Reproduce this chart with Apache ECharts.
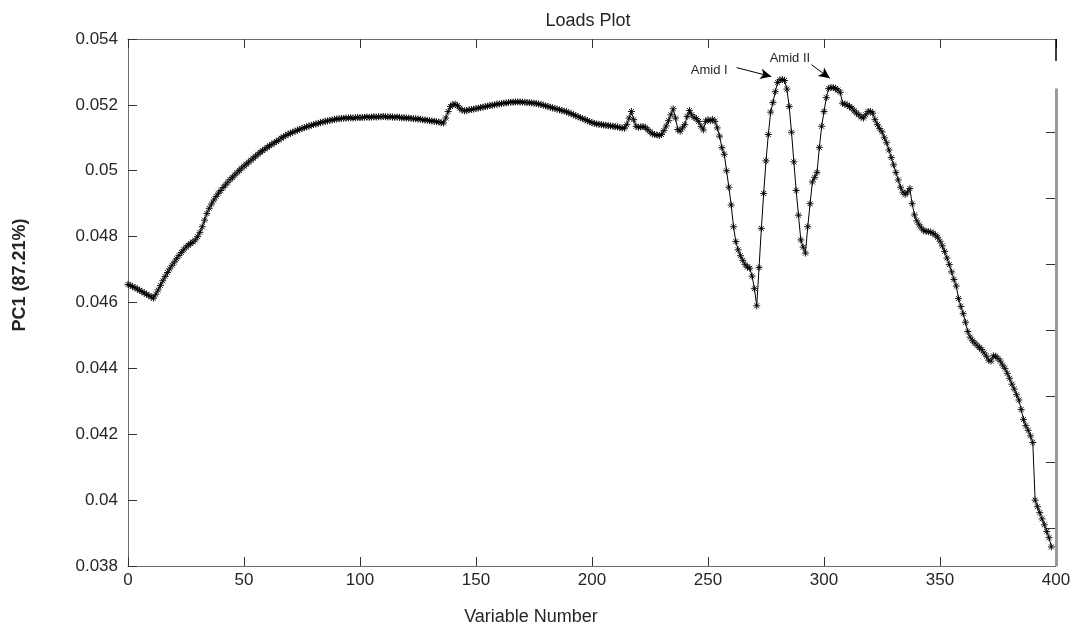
<!DOCTYPE html>
<html>
<head>
<meta charset="utf-8">
<script src="https://cdn.jsdelivr.net/npm/echarts@6/dist/echarts.min.js"></script>
<style>
html,body{margin:0;padding:0;background:#fff;}
#chart{width:1075px;height:626px;}
</style>
</head>
<body>
<div id="chart"></div>
<script>
// ---- data ----
const titleText = "Loads Plot";
const xAxisName = "Variable Number";
const yAxisName = "PC1 (87.21%)";
const xTicks = [0, 50, 100, 150, 200, 250, 300, 350, 400];
const yTicks = [0.038, 0.04, 0.042, 0.044, 0.046, 0.048, 0.05, 0.052, 0.054];
const firstVariable = 0;
// PC1 loading per variable
const loadings = [
0.04655,0.04652,0.04648,0.04645,0.04641,0.04637,0.04633,0.04629,0.04625,0.04621,
0.04617,0.04613,0.04625,0.04638,0.04652,0.04666,0.04679,0.04691,0.04702,0.04713,
0.04723,0.04733,0.04743,0.04752,0.04760,0.04768,0.04774,0.04779,0.04784,0.04790,
0.04800,0.04813,0.04830,0.04850,0.04870,0.04886,0.04899,0.04911,0.04922,0.04932,
0.04940,0.04949,0.04957,0.04965,0.04973,0.04980,0.04987,0.04994,0.05001,0.05008,
0.05014,0.05020,0.05026,0.05032,0.05038,0.05044,0.05050,0.05056,0.05061,0.05066,
0.05071,0.05076,0.05080,0.05085,0.05089,0.05093,0.05099,0.05103,0.05107,0.05111,
0.05114,0.05117,0.05120,0.05123,0.05126,0.05128,0.05131,0.05133,0.05136,0.05138,
0.05140,0.05142,0.05144,0.05146,0.05148,0.05150,0.05151,0.05153,0.05154,0.05156,
0.05157,0.05158,0.05159,0.05159,0.05160,0.05160,0.05161,0.05160,0.05161,0.05162,
0.05161,0.05162,0.05162,0.05163,0.05162,0.05163,0.05164,0.05163,0.05164,0.05164,
0.05165,0.05164,0.05163,0.05164,0.05163,0.05162,0.05163,0.05162,0.05161,0.05161,
0.05160,0.05160,0.05159,0.05158,0.05158,0.05157,0.05156,0.05155,0.05154,0.05153,
0.05152,0.05151,0.05150,0.05149,0.05148,0.05146,0.05145,0.05160,0.05180,0.05195,
0.05201,0.05202,0.05198,0.05190,0.05184,0.05182,0.05183,0.05185,0.05186,0.05187,
0.05189,0.05190,0.05192,0.05193,0.05195,0.05196,0.05198,0.05199,0.05200,0.05202,
0.05203,0.05204,0.05205,0.05206,0.05207,0.05208,0.05208,0.05209,0.05209,0.05209,
0.05208,0.05208,0.05207,0.05207,0.05206,0.05205,0.05204,0.05203,0.05201,0.05199,
0.05197,0.05195,0.05193,0.05191,0.05189,0.05187,0.05185,0.05183,0.05181,0.05179,
0.05176,0.05173,0.05170,0.05167,0.05164,0.05161,0.05158,0.05155,0.05152,0.05149,
0.05146,0.05144,0.05142,0.05141,0.05140,0.05139,0.05138,0.05137,0.05136,0.05135,
0.05134,0.05133,0.05131,0.05130,0.05129,0.05140,0.05160,0.05180,0.05155,0.05135,
0.05132,0.05133,0.05134,0.05132,0.05125,0.05118,0.05112,0.05110,0.05109,0.05107,
0.05110,0.05122,0.05136,0.05152,0.05170,0.05188,0.05160,0.05125,0.05120,0.05130,
0.05140,0.05165,0.05183,0.05170,0.05162,0.05158,0.05150,0.05135,0.05124,0.05150,
0.05155,0.05152,0.05156,0.05150,0.05130,0.05105,0.05070,0.05050,0.05000,0.04950,
0.04896,0.04830,0.04785,0.04760,0.04742,0.04728,0.04715,0.04708,0.04704,0.04680,
0.04642,0.04590,0.04706,0.04825,0.04931,0.05030,0.05110,0.05178,0.05207,0.05240,
0.05268,0.05276,0.05277,0.05274,0.05248,0.05195,0.05117,0.05027,0.04940,0.04865,
0.04790,0.04768,0.04750,0.04830,0.04900,0.04966,0.04980,0.04995,0.05071,0.05135,
0.05180,0.05222,0.05250,0.05253,0.05252,0.05250,0.05245,0.05238,0.05205,0.05202,
0.05200,0.05195,0.05190,0.05182,0.05175,0.05170,0.05163,0.05160,0.05170,0.05180,
0.05180,0.05175,0.05155,0.05140,0.05128,0.05118,0.05100,0.05085,0.05063,0.05040,
0.05018,0.04995,0.04972,0.04950,0.04935,0.04928,0.04935,0.04946,0.04900,0.04866,
0.04848,0.04836,0.04826,0.04818,0.04816,0.04815,0.04814,0.04810,0.04805,0.04798,
0.04786,0.04772,0.04755,0.04735,0.04715,0.04693,0.04670,0.04650,0.04612,0.04588,
0.04566,0.04540,0.04512,0.04495,0.04484,0.04477,0.04470,0.04463,0.04457,0.04447,
0.04437,0.04425,0.04422,0.04438,0.04437,0.04430,0.04422,0.04410,0.04400,0.04385,
0.04370,0.04352,0.04337,0.04320,0.04304,0.04275,0.04245,0.04226,0.04212,0.04195,
0.04175,0.04000,0.03980,0.03962,0.03943,0.03925,0.03905,0.03886,0.03858
];
// annotations: text labels and arrows in data coordinates
const annotationLabels = [
  {name: "Amid I", x: 250.5, y: 0.05304},
  {name: "Amid II", x: 285.3, y: 0.05342}
];
const annotationArrows = [
  {from: [262.4, 0.05313], to: [277.3, 0.05286]},
  {from: [294.6, 0.05322], to: [302.5, 0.05281]}
];
// right-hand overlay axis ticks (artifact of the original figure)
const rightTicks = [0.051157, 0.049157, 0.047157, 0.045157, 0.043157, 0.041157, 0.039157];

// ---- chart ----
const FONT = "Liberation Sans, Arial, Helvetica, sans-serif";
const seriesData = loadings.map((v, i) => [firstVariable + i, v]);
const xMin = xTicks[0], xMax = xTicks[xTicks.length - 1];
const yMin = yTicks[0], yMax = yTicks[yTicks.length - 1];
const asterisk = 'path://M5,0 L5,10 M0,5 L10,5 M1.5,1.5 L8.5,8.5 M8.5,1.5 L1.5,8.5';
const fmtY = v => String(parseFloat(v.toFixed(3)));

const chart = echarts.init(document.getElementById('chart'), null, {renderer: 'canvas'});

const baseX = {
  type: 'value', min: xMin, max: xMax, interval: 50,
  axisLine: {show: true, onZero: false, lineStyle: {color: '#6e6e6e', width: 1}},
  axisTick: {show: true, inside: true, length: 9, lineStyle: {color: '#333'}},
  splitLine: {show: false}
};

chart.setOption({
  animation: false,
  backgroundColor: '#ffffff',
  grid: {left: 128, right: 19, top: 39, bottom: 60, containLabel: false},
  xAxis: [
    Object.assign({}, baseX, {
      position: 'bottom',
      axisLabel: {show: true, margin: 6, color: '#262626', fontSize: 17, fontFamily: FONT,
        formatter: v => String(v)}
    }),
    Object.assign({}, baseX, {position: 'top', axisLabel: {show: false}})
  ],
  yAxis: [
    {
      type: 'value', min: yMin, max: yMax, interval: 0.002, position: 'left',
      axisLine: {show: true, onZero: false, lineStyle: {color: '#6e6e6e', width: 1}},
      axisTick: {show: true, inside: true, length: 9, lineStyle: {color: '#333'}},
      axisLabel: {show: true, margin: 10, color: '#262626', fontSize: 17, fontFamily: FONT, formatter: fmtY},
      splitLine: {show: false}
    },
    {
      type: 'value', min: yMin, max: yMax, position: 'right',
      axisLine: {show: false, onZero: false},
      axisTick: {show: true, inside: true, length: 10, customValues: rightTicks, lineStyle: {color: '#333'}},
      axisLabel: {show: false},
      splitLine: {show: false}
    }
  ],
  series: [{
    type: 'line',
    xAxisIndex: 0, yAxisIndex: 0,
    data: seriesData,
    clip: false,
    showSymbol: true,
    showAllSymbol: true,
    symbol: asterisk,
    symbolSize: 7,
    itemStyle: {color: '#000', borderColor: '#000', borderWidth: 0.9},
    lineStyle: {color: '#000', width: 1},
    emphasis: {disabled: true},
    markLine: {
      silent: true,
      animation: false,
      symbol: ['none', 'arrow'],
      symbolSize: [8, 11],
      label: {show: false},
      lineStyle: {color: '#000', width: 1, type: 'solid'},
      data: annotationArrows.map(a => [{coord: a.from}, {coord: a.to}]).concat([
        [{coord: [xMax, 0.0525], symbol: 'none', lineStyle: {color: '#9a9a9a', width: 3}},
         {coord: [xMax, yMin], symbol: 'none'}],
        [{coord: [xMax, yMax], symbol: 'none', lineStyle: {color: '#000', width: 1.5}},
         {coord: [xMax, 0.05333], symbol: 'none'}]
      ])
    },
    markPoint: {
      silent: true,
      animation: false,
      symbol: 'circle',
      symbolSize: 0,
      label: {show: true, position: 'inside', formatter: p => p.name, color: '#262626', fontSize: 13, fontFamily: FONT},
      data: annotationLabels.map(a => ({name: a.name, coord: [a.x, a.y]}))
    }
  }],
  graphic: [
    {type: 'text', x: 588, y: 21, style: {text: titleText, fill: '#262626', font: '18px ' + FONT, textAlign: 'center', textVerticalAlign: 'middle'}},
    {type: 'text', x: 531, y: 617, style: {text: xAxisName, fill: '#262626', font: '18px ' + FONT, textAlign: 'center', textVerticalAlign: 'middle'}},
    {type: 'text', x: 20, y: 275, rotation: Math.PI / 2, style: {text: yAxisName, fill: '#262626', font: 'bold 18px ' + FONT, textAlign: 'center', textVerticalAlign: 'middle'}}
  ]
});
</script>
</body>
</html>
